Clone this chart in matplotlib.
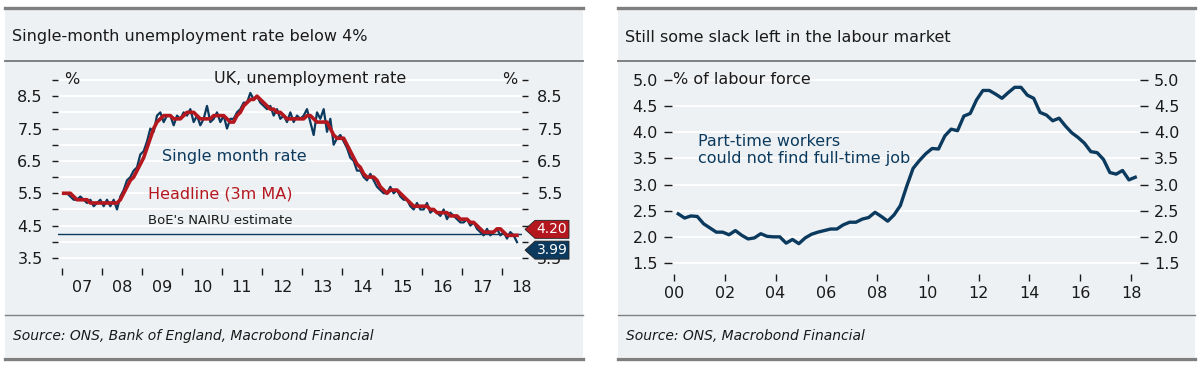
import numpy as np
import matplotlib
matplotlib.use("Agg")
import matplotlib.pyplot as plt
from matplotlib.patches import Rectangle, Polygon
from matplotlib.lines import Line2D
from matplotlib.transforms import IdentityTransform

# ---- data: left panel, monthly Jan 2007 - May 2018 ----
headline = [
    5.5, 5.5, 5.5, 5.4, 5.3, 5.3, 5.3, 5.3, 5.2, 5.2, 5.2, 5.2,   # 2007
    5.2, 5.2, 5.2, 5.2, 5.2, 5.3, 5.5, 5.7, 5.9, 6.0, 6.2, 6.4,   # 2008
    6.6, 6.9, 7.2, 7.5, 7.7, 7.8, 7.9, 7.9, 7.9, 7.8, 7.8, 7.8,   # 2009
    7.9, 8.0, 8.0, 8.0, 7.9, 7.8, 7.8, 7.8, 7.8, 7.9, 7.9, 7.9,   # 2010
    7.9, 7.8, 7.7, 7.7, 7.9, 8.0, 8.2, 8.3, 8.4, 8.4, 8.5, 8.4,   # 2011
    8.3, 8.2, 8.1, 8.1, 8.0, 8.0, 7.9, 7.8, 7.8, 7.8, 7.8, 7.8,   # 2012
    7.8, 7.9, 7.9, 7.8, 7.7, 7.7, 7.7, 7.7, 7.5, 7.3, 7.2, 7.2,   # 2013
    7.2, 7.0, 6.8, 6.6, 6.4, 6.3, 6.1, 6.0, 6.0, 6.0, 5.9, 5.7,   # 2014
    5.6, 5.5, 5.6, 5.6, 5.6, 5.5, 5.4, 5.3, 5.2, 5.1, 5.1, 5.1,   # 2015
    5.1, 5.1, 5.0, 5.0, 4.9, 4.9, 4.9, 4.9, 4.8, 4.8, 4.8, 4.7,   # 2016
    4.7, 4.7, 4.6, 4.6, 4.5, 4.4, 4.3, 4.3, 4.3, 4.3, 4.4, 4.4,   # 2017
    4.3, 4.2, 4.2, 4.2, 4.2,                                      # 2018
]
single_month = [
    5.5, 5.5, 5.4, 5.3, 5.3, 5.4, 5.3, 5.2, 5.3, 5.1, 5.2, 5.3,
    5.1, 5.3, 5.1, 5.3, 5.0, 5.4, 5.6, 5.9, 6.0, 6.2, 6.3, 6.7,
    6.8, 7.1, 7.5, 7.4, 7.9, 8.0, 7.7, 7.9, 7.9, 7.6, 7.9, 7.8,
    8.0, 7.9, 8.1, 7.7, 7.9, 7.6, 7.8, 8.2, 7.7, 7.8, 8.0, 7.7,
    7.9, 7.5, 7.8, 7.8, 8.0, 8.1, 8.3, 8.3, 8.6, 8.4, 8.5, 8.3,
    8.2, 8.1, 8.2, 7.9, 8.1, 7.8, 7.9, 7.7, 8.0, 7.7, 7.9, 7.8,
    7.9, 8.1, 7.7, 7.3, 8.0, 7.8, 8.1, 7.4, 7.8, 7.0, 7.2, 7.3,
    7.1, 6.9, 6.6, 6.5, 6.2, 6.2, 6.0, 5.9, 6.1, 5.9, 5.7, 5.6,
    5.5, 5.5, 5.7, 5.5, 5.6, 5.4, 5.3, 5.3, 5.1, 5.0, 5.2, 5.0,
    5.0, 5.2, 4.9, 5.0, 4.9, 4.8, 5.0, 4.7, 4.9, 4.8, 4.7, 4.6,
    4.6, 4.7, 4.5, 4.6, 4.4, 4.3, 4.2, 4.4, 4.2, 4.3, 4.4, 4.2,
    4.3, 4.1, 4.3, 4.2, 3.99,
]
nairu = 4.25
left_years = list(range(2007, 2019))
left_labels = ["07", "08", "09", "10", "11", "12", "13", "14", "15", "16", "17", "18"]
left_yticks = [3.5, 4.5, 5.5, 6.5, 7.5, 8.5]

# ---- data: right panel, quarterly 2000Q1 - 2018Q1 ----
part_time = [
    2.44, 2.36, 2.40, 2.39,   # 2000
    2.25, 2.17, 2.09, 2.09,   # 2001
    2.04, 2.12, 2.03, 1.96,   # 2002
    1.98, 2.06, 2.01, 2.00,   # 2003
    2.00, 1.88, 1.95, 1.87,   # 2004
    1.98, 2.05, 2.09, 2.12,   # 2005
    2.15, 2.15, 2.23, 2.28,   # 2006
    2.28, 2.34, 2.37, 2.47,   # 2007
    2.39, 2.30, 2.42, 2.60,   # 2008
    2.97, 3.31, 3.46, 3.59,   # 2009
    3.69, 3.68, 3.93, 4.06,   # 2010
    4.03, 4.31, 4.36, 4.62,   # 2011
    4.80, 4.80, 4.73, 4.65,   # 2012
    4.76, 4.86, 4.86, 4.71,   # 2013
    4.65, 4.38, 4.33, 4.22,   # 2014
    4.27, 4.12, 3.99, 3.90,   # 2015
    3.79, 3.63, 3.61, 3.48,   # 2016
    3.23, 3.20, 3.27, 3.09,   # 2017
    3.14,                     # 2018
]
right_years = list(range(2000, 2019, 2))
right_labels = ["00", "02", "04", "06", "08", "10", "12", "14", "16", "18"]
right_yticks = [1.5, 2.0, 2.5, 3.0, 3.5, 4.0, 4.5, 5.0]

RED = "#b5171f"
BLUE = "#0b3a5e"
BG = "#eef1f3"
GREY = "#7f7f7f"
TXT = "#1a1a1a"

W, H = 1200, 370


def fx(x):
    return x / W


def fy(y):
    return 1 - y / H


def rect(x0, y0, x1, y1):
    return [fx(x0), fy(y1), fx(x1) - fx(x0), fy(y0) - fy(y1)]


fig = plt.figure(figsize=(12, 3.7), dpi=100)
fig.patch.set_facecolor("white")

# panel frames
for x0, x1, title, source in [(5, 583, "Single-month unemployment rate below 4%",
                               "Source: ONS, Bank of England, Macrobond Financial"),
                              (618, 1195, "Still some slack left in the labour market",
                               "Source: ONS, Macrobond Financial")]:
    fig.add_artist(Rectangle((fx(x0), fy(357)), fx(x1) - fx(x0), fy(9) - fy(357),
                             transform=fig.transFigure, facecolor=BG, edgecolor="none", zorder=0))
    fig.add_artist(Line2D([fx(x0), fx(x1)], [fy(8), fy(8)], color=GREY, lw=2.4, zorder=1))
    fig.add_artist(Line2D([fx(x0), fx(x1)], [fy(61), fy(61)], color=GREY, lw=1.4, zorder=1))
    fig.add_artist(Line2D([fx(x0), fx(x1)], [fy(315), fy(315)], color=GREY, lw=1.0, zorder=1))
    fig.add_artist(Line2D([fx(x0), fx(x1)], [fy(358.5), fy(358.5)], color=GREY, lw=2.4, zorder=1))
    fig.text(fx(x0 + 7), fy(37), title, fontsize=11.5, color=TXT, va="center", ha="left")
    fig.text(fx(x0 + 8), fy(336), source, fontsize=10, style="italic", color=TXT,
             va="center", ha="left")


def style_axes(ax):
    ax.set_facecolor("none")
    for s in ax.spines.values():
        s.set_visible(False)
    ax.grid(axis="y", color="white", lw=1.3)
    ax.set_axisbelow(True)


# ---------- left chart ----------
axl = fig.add_axes(rect(58, 76, 522, 268))
style_axes(axl)
t_month = 2007 + (np.arange(len(headline)) + 0.5) / 12
axl.axhline(nairu, color=BLUE, lw=1.0, zorder=2)
axl.plot(t_month, single_month, color=BLUE, lw=1.6, zorder=3)
axl.plot(t_month, headline, color=RED, lw=2.6, zorder=4)
axl.set_xlim(2006.9, 2018.5)
axl.set_ylim(3.5 - 10 / 32.36, 9.0 + 4 / 32.36)
ygrid = np.arange(3.5, 9.01, 0.5)
axl.set_yticks(ygrid)
axl.set_yticklabels([f"{v:.1f}" if v in left_yticks else "" for v in ygrid])
axl.tick_params(axis="y", which="both", left=True, right=True, labelleft=True, labelright=True,
                length=4, width=1, color=TXT, pad=7, labelsize=11.5, labelcolor=TXT)
# the right-hand 4.5 label sits behind the headline tag
for tk in axl.yaxis.get_major_ticks():
    if abs(tk.get_loc() - 4.5) < 1e-9:
        tk.label2.set_visible(False)
axl.set_xticks(left_years)
axl.set_xticklabels([])
axl.set_xticks([y + 0.5 for y in left_years], minor=True)
axl.set_xticklabels(left_labels, minor=True)
axl.tick_params(axis="x", which="major", length=5, width=1, color=TXT)
axl.tick_params(axis="x", which="minor", length=0, pad=9, labelsize=11.5, labelcolor=TXT)

fig.text(fx(64), fy(79), "%", fontsize=11.5, color=TXT, va="center", ha="left")
fig.text(fx(517), fy(79), "%", fontsize=11.5, color=TXT, va="center", ha="right")
fig.text(fx(310), fy(78), "UK, unemployment rate", fontsize=11.5, color=TXT, va="center", ha="center")
fig.text(fx(162), fy(157), "Single month rate", fontsize=11.5, color=BLUE, va="center", ha="left")
fig.text(fx(148), fy(194), "Headline (3m MA)", fontsize=11.5, color=RED, va="center", ha="left")
fig.text(fx(148), fy(221), "BoE's NAIRU estimate", fontsize=9.5, color=TXT, va="center", ha="left")

# value tags at the right edge
for val, col, shift in [(headline[-1], RED, -6), (single_month[-1], BLUE, 8)]:
    xd, yd = axl.transData.transform((2018.5, val))
    cy = yd - shift
    tip = xd + 3
    bl = tip + 10
    br = bl + 34
    pts = [(tip, cy), (bl, cy + 9), (br, cy + 9), (br, cy - 9), (bl, cy - 9)]
    fig.add_artist(Polygon(pts, closed=True, transform=IdentityTransform(),
                           facecolor=col, edgecolor="#222222", lw=0.6, zorder=5))
    fig.text((bl + br) / 2 / W, cy / H, f"{val:.2f}", fontsize=10, color="white",
             ha="center", va="center", zorder=6)

# ---------- right chart ----------
axr = fig.add_axes(rect(672, 76, 1140, 274))
style_axes(axr)
t_q = 2000 + (np.arange(len(part_time)) * 3 + 2) / 12
axr.plot(t_q, part_time, color=BLUE, lw=2.4, zorder=3)
axr.set_xlim(2000 - 2 / 25.39, 2000 + 466 / 25.39)
axr.set_ylim(1.5 - 11 / 52.3, 5.0 + 4 / 52.3)
axr.set_yticks(right_yticks)
axr.set_yticklabels([f"{v:.1f}" for v in right_yticks])
axr.tick_params(axis="y", left=True, right=True, labelleft=True, labelright=True,
                length=6, width=1, color=TXT, pad=4, labelsize=11.5, labelcolor=TXT)
axr.set_xticks(right_years)
axr.set_xticklabels(right_labels)
axr.tick_params(axis="x", length=5, width=1, color=TXT, pad=4, labelsize=11.5, labelcolor=TXT)

fig.text(fx(673), fy(80), "% of labour force", fontsize=11.5, color=TXT, va="center", ha="left")
fig.text(fx(698), fy(150), "Part-time workers\ncould not find full-time job", fontsize=11.5,
         color=BLUE, va="center", ha="left", linespacing=1.1)

fig.savefig("out.png", dpi=100, facecolor="white")
